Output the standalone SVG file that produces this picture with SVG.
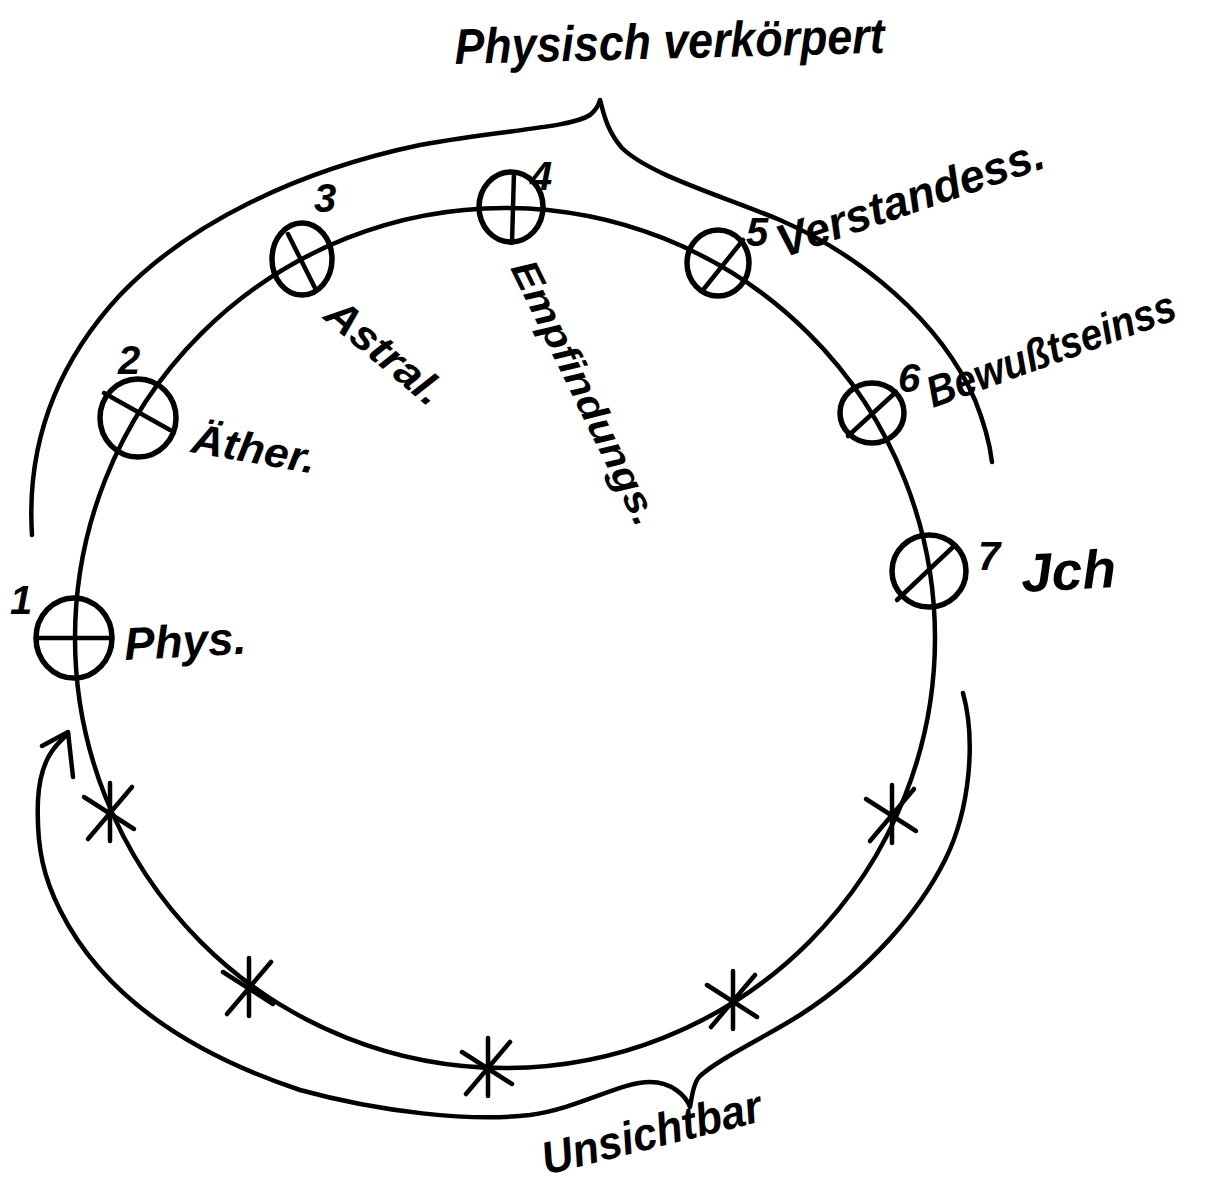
<svg xmlns="http://www.w3.org/2000/svg" width="1216" height="1188" viewBox="0 0 1216 1188">
<style>
.ln{fill:none;stroke:#000;stroke-width:4.5;stroke-linecap:round;stroke-linejoin:round}
.nd{fill:none;stroke:#000;stroke-width:5.5}
.cr{fill:none;stroke:#000;stroke-width:4.5;stroke-linecap:round}
.st{fill:none;stroke:#000;stroke-width:4.5;stroke-linecap:round}
.tx{font-family:"Liberation Sans","DejaVu Sans",sans-serif;font-style:italic;font-weight:bold;fill:#000}
.num{font-family:"Liberation Sans","DejaVu Sans",sans-serif;font-style:italic;font-weight:bold;fill:#000;font-size:40px}
</style>
<defs>
<g id="star"><path class="st" d="M0,-30 L0,28 M-26,-16 L24,16 M22,-26 L-22,26"/></g>
</defs>
<rect width="1216" height="1188" fill="#fff"/>
<g id="connectors">
<circle class="ln" cx="505" cy="638" r="430"/>
<path class="ln" d="M32,535 C26,440 60,360 120,295 C190,222 300,170 420,145 C500,130 570,128 590,115 C596,110 599,104 600,100 C603,110 606,130 622,148 C650,175 720,195 780,220 C860,255 940,320 975,400 C985,425 990,445 992,462"/>
<path class="ln" d="M68,734 C55,745 40,760 38,800 C36,850 45,880 60,910 C100,990 180,1050 300,1090 C380,1112 470,1122 530,1115 C580,1108 620,1082 650,1082 C672,1082 686,1096 690,1107 C692,1095 694,1082 700,1076 C720,1058 760,1040 800,1015 C870,970 920,910 945,860 C970,810 976,740 963,693"/>
<path class="ln" d="M42,746 L68,732 L73,777"/>
</g>
<g id="node1"><ellipse class="nd" cx="74" cy="638" rx="38" ry="40"/><line class="cr" x1="36" y1="638" x2="112" y2="638"/><text class="num" x="10" y="614">1</text><text class="tx" x="125" y="660" font-size="46" textLength="122" lengthAdjust="spacingAndGlyphs" transform="rotate(-3 125 660)">Phys.</text></g>
<g id="node2"><ellipse class="nd" cx="138" cy="418" rx="38" ry="39"/><line class="cr" x1="104" y1="393" x2="170" y2="430"/><text class="num" x="118" y="374">2</text><text class="tx" x="190" y="452" font-size="42" textLength="125" lengthAdjust="spacingAndGlyphs" transform="rotate(10 190 452)">Äther.</text></g>
<g id="node3"><ellipse class="nd" cx="302" cy="259" rx="30" ry="36"/><line class="cr" x1="288" y1="234" x2="316" y2="290"/><text class="num" x="314" y="212">3</text><text class="tx" x="322" y="318" font-size="42" textLength="140" lengthAdjust="spacingAndGlyphs" transform="rotate(40 322 318)">Astral.</text></g>
<g id="node4"><ellipse class="nd" cx="511" cy="207" rx="32" ry="35"/><line class="cr" x1="514" y1="172" x2="512" y2="243"/><text class="num" x="530" y="190">4</text><text class="tx" x="510" y="268" font-size="38" textLength="290" lengthAdjust="spacingAndGlyphs" transform="rotate(64 510 268)">Empfindungs.</text></g>
<g id="node5"><ellipse class="nd" cx="718" cy="263" rx="31" ry="33"/><line class="cr" x1="703" y1="290" x2="743" y2="240"/><text class="num" x="746" y="246">5</text><text class="tx" x="783" y="258" font-size="46" textLength="280" lengthAdjust="spacingAndGlyphs" transform="rotate(-19 783 258)">Verstandess.</text></g>
<g id="node6"><ellipse class="nd" cx="872" cy="413" rx="32" ry="30"/><line class="cr" x1="848" y1="436" x2="896" y2="392"/><text class="num" x="898" y="392">6</text><text class="tx" x="933" y="408" font-size="44" textLength="262" lengthAdjust="spacingAndGlyphs" transform="rotate(-20 933 408)">Bewußtseinss</text></g>
<g id="node7"><ellipse class="nd" cx="929" cy="571" rx="37" ry="36"/><line class="cr" x1="953" y1="547" x2="897" y2="600"/><text class="num" x="978" y="570" font-size="46">7</text><text class="tx" x="1022" y="592" font-size="54" textLength="95" lengthAdjust="spacingAndGlyphs" transform="rotate(-3 1022 592)">Jch</text></g>
<g id="stars">
<use href="#star" transform="translate(110 813)"/>
<use href="#star" transform="translate(249 988)"/>
<use href="#star" transform="translate(488 1068)"/>
<use href="#star" transform="translate(733 1001)"/>
<use href="#star" transform="translate(892 815)"/>
</g>
<g id="labels">
<text class="tx" x="455" y="64" font-size="50" textLength="430" lengthAdjust="spacingAndGlyphs" transform="rotate(-1.5 455 64)">Physisch verkörpert</text>
<text class="tx" x="546" y="1175" font-size="46" textLength="225" lengthAdjust="spacingAndGlyphs" transform="rotate(-14 546 1175)">Unsichtbar</text>
</g>
</svg>
